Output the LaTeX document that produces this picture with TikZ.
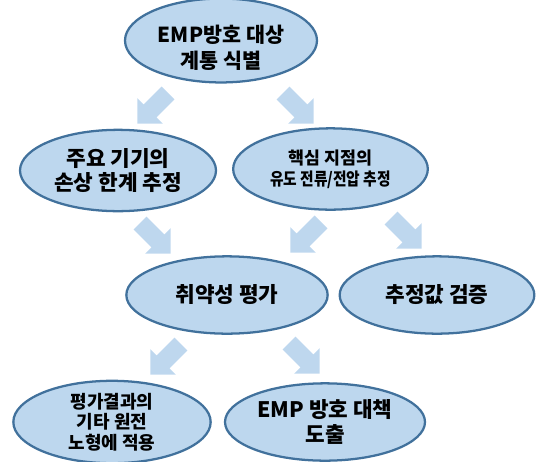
\documentclass[tikz,border=0pt]{standalone}
\usepackage{fontspec}
\setmainfont{Noto Sans CJK KR}
\usepackage{tikz}
\usetikzlibrary{shapes.geometric,shapes.arrows}
\definecolor{ovalfill}{HTML}{BDD7EE}
\definecolor{ovalline}{HTML}{41719C}
\definecolor{arrowfill}{HTML}{BED7EE}

\begin{document}
\begin{tikzpicture}[x=0.75pt,y=-0.75pt]
        \tikzstyle{oval}=[ellipse,draw=ovalline,fill=ovalfill,line width=1.7pt,
        inner sep=0pt,align=center,font=\bfseries\fontsize{16}{18.5}\selectfont]
        \tikzstyle{smalltext}=[font=\bfseries\fontsize{13}{15.5}\selectfont]
        \tikzstyle{midtext}=[font=\bfseries\fontsize{13.5}{15.5}\selectfont]
        \tikzstyle{flowarrow}=[single arrow,fill=arrowfill,draw=none,
        single arrow tip angle=90,single arrow head extend=6.75pt,
        inner xsep=0pt,inner ysep=6.6pt,minimum height=32.6pt,anchor=tip]

        \useasboundingbox (0,0) rectangle (539,461);

        %% Draw the steps
        \node[oval,font=\bfseries\fontsize{15.5}{19}\selectfont,
            minimum width=144pt,minimum height=57pt] (e_0) at (221,40.5)
            {\rule{0pt}{24pt}EMP방호 대상\\계통 식별};
        \node[oval,minimum width=147pt,minimum height=61pt] (e_1) at (118,170.5)
            {주요 기기의\\손상 한계 추정};
        \node[oval,smalltext,minimum width=146pt,minimum height=61pt] (e_2) at (330.5,169)
            {핵심 지점의\\\scalebox{0.85}[1]{유도 전류/전압 추정}};
        \node[oval,minimum width=151pt,minimum height=58pt] (e_3) at (227,295)
            {취약성 평가};
        \node[oval,minimum width=146pt,minimum height=58pt] (e_4) at (437,295)
            {추정값 검증};
        \node[oval,midtext,minimum width=148pt,minimum height=58pt] (e_5) at (112,422)
            {평가결과의\\기타 원전\\노형에 적용};
        \node[oval,minimum width=150pt,minimum height=58pt] (e_6) at (325,422)
            {EMP 방호 대책\\도출};

        %% Draw the block arrows between the steps
        \node[flowarrow,rotate=-135] (a_1) at (137,124) {};
        \node[flowarrow,rotate=-45] (a_2) at (314,124) {};
        \node[flowarrow,rotate=-45] (a_3) at (171,254) {};
        \node[flowarrow,rotate=-135] (a_4) at (290,253) {};
        \node[flowarrow,rotate=-45] (a_5) at (422,249) {};
        \node[flowarrow,rotate=-135] (a_6) at (150,375) {};
        \node[flowarrow,rotate=-45] (a_7) at (320,374) {};
\end{tikzpicture}
\end{document}
